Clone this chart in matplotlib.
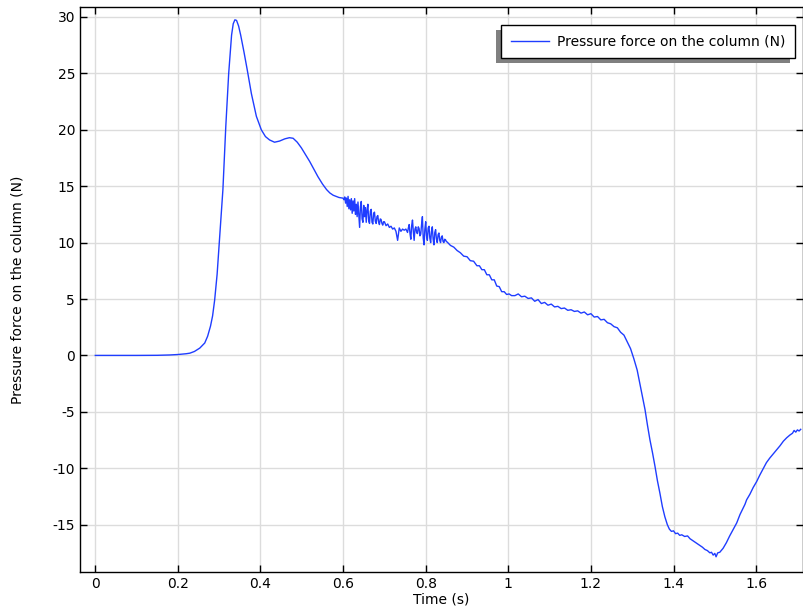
import matplotlib
matplotlib.use("Agg")
import matplotlib.pyplot as plt
from matplotlib.patches import Rectangle

plt.rcParams['font.family'] = ['DejaVu Sans']
plt.rcParams['axes.unicode_minus'] = False

# time (s) and pressure force (N)
time_s = [
    # rise and peak
    0.000, 0.050, 0.100, 0.150, 0.180, 0.200, 0.220, 0.229, 0.240, 0.253,
    0.265, 0.272, 0.279, 0.284, 0.289, 0.295, 0.300, 0.305, 0.309, 0.316,
    0.323, 0.330, 0.334, 0.338, 0.342, 0.347, 0.352, 0.360, 0.368, 0.378,
    0.390, 0.402, 0.412, 0.422, 0.434, 0.446, 0.459, 0.470, 0.479, 0.489,
    0.499, 0.509, 0.519, 0.539, 0.550, 0.560, 0.568, 0.576, 0.590,
    # noisy part
    0.600, 0.602, 0.604, 0.606, 0.608, 0.610, 0.612, 0.614, 0.616, 0.618,
    0.620, 0.622, 0.624, 0.626, 0.628, 0.630, 0.632, 0.634, 0.636, 0.638,
    0.640, 0.642, 0.644, 0.646, 0.648, 0.650, 0.652, 0.654, 0.656, 0.658,
    0.660, 0.662, 0.664, 0.666, 0.668, 0.670, 0.672, 0.674, 0.676, 0.678,
    0.680, 0.682, 0.684, 0.686, 0.688, 0.690, 0.692, 0.694, 0.696, 0.698,
    0.700, 0.704, 0.708, 0.712, 0.716, 0.720, 0.724, 0.728, 0.732, 0.736,
    0.740, 0.744, 0.748, 0.752,
    0.756, 0.758, 0.760, 0.762, 0.764, 0.766, 0.768, 0.770, 0.772, 0.774,
    0.776, 0.778, 0.780, 0.782, 0.784, 0.786, 0.788, 0.790, 0.792, 0.794,
    0.796, 0.798, 0.800, 0.802, 0.804, 0.806, 0.808, 0.810, 0.812, 0.814,
    0.816, 0.818, 0.820, 0.822, 0.824, 0.826, 0.828, 0.830, 0.832, 0.834,
    0.836, 0.838, 0.840, 0.842, 0.844, 0.846, 0.848, 0.850, 0.852,
    # decline to 1 s
    0.860, 0.868, 0.876, 0.884, 0.892, 0.900, 0.908, 0.916, 0.924, 0.930,
    0.936, 0.942, 0.948, 0.954, 0.960, 0.966, 0.972, 0.978, 0.984, 0.990,
    0.996, 1.002, 1.008,
    # plateau and drop
    1.016, 1.024, 1.032, 1.040, 1.048, 1.056, 1.064, 1.072, 1.080, 1.088,
    1.096, 1.104, 1.112, 1.120, 1.128, 1.136, 1.144, 1.152, 1.160, 1.168,
    1.176, 1.184, 1.192, 1.200, 1.208, 1.216, 1.224, 1.232, 1.240, 1.248,
    1.256, 1.264, 1.272, 1.280, 1.288, 1.296, 1.304, 1.312, 1.318, 1.324,
    1.331, 1.337, 1.343, 1.349, 1.355, 1.361, 1.367, 1.373, 1.379, 1.385,
    # minimum and recovery
    1.390, 1.395, 1.400, 1.405, 1.410, 1.415, 1.420, 1.427, 1.434, 1.440,
    1.446, 1.452, 1.458, 1.464, 1.470, 1.476, 1.482, 1.488, 1.492, 1.496,
    1.500, 1.503, 1.507, 1.512, 1.520, 1.528, 1.536, 1.544, 1.553, 1.561,
    1.569, 1.573, 1.577, 1.585, 1.593, 1.601, 1.609, 1.617, 1.625, 1.633,
    1.641, 1.650, 1.658, 1.666, 1.674, 1.682, 1.688, 1.692, 1.696, 1.700,
    1.704, 1.708,
]
force_n = [
    # rise and peak
    0.0, 0.0, 0.0, 0.01, 0.04, 0.08, 0.15, 0.2, 0.35, 0.65,
    1.1, 1.7, 2.6, 3.5, 4.9, 7.2, 9.9, 12.5, 14.7, 20.3,
    25.0, 28.4, 29.4, 29.75, 29.7, 29.2, 28.4, 26.9, 25.3, 23.2,
    21.2, 20.0, 19.4, 19.1, 18.9, 19.0, 19.2, 19.3, 19.25, 18.9,
    18.4, 17.8, 17.2, 15.85, 15.2, 14.7, 14.4, 14.2, 14.0,
    # noisy part
    13.94, 13.8, 14.05, 13.5, 13.95, 13.2, 14.1, 13.0, 13.8, 12.9,
    13.9, 12.6, 13.7, 12.8, 13.9, 12.5, 13.4, 12.3, 13.6, 12.4,
    11.35, 13.2, 13.65, 12.1, 11.8, 13.3, 12.3, 13.1, 11.8, 12.9,
    13.4, 11.9, 11.7, 12.8, 12.95, 11.8, 11.65, 12.6, 12.7, 11.9,
    11.7, 12.3, 12.4, 11.8, 11.6, 12.1, 12.05, 11.7, 11.55, 11.85,
    11.85, 11.5, 11.65, 11.35, 11.45, 11.2, 11.3, 11.0, 10.2, 11.3,
    11.0, 11.2, 11.1, 11.2,
    10.9, 11.3, 11.6, 10.8, 10.3, 11.5, 12.0, 11.0, 10.2, 11.2,
    11.4, 10.9, 10.8, 11.4, 11.25, 10.6, 10.75, 11.6, 12.3, 10.4,
    9.8, 11.2, 11.85, 10.6, 10.2, 11.3, 11.45, 10.4, 10.0, 11.0,
    11.4, 10.3, 9.8, 10.9, 11.15, 10.3, 10.0, 10.7, 10.85, 10.2,
    10.0, 10.5, 10.6, 10.1, 10.0, 10.3, 10.25, 10.1, 10.05,
    # decline to 1 s
    9.75, 9.6, 9.3, 9.1, 8.8, 8.75, 8.4, 8.35, 7.95, 7.95,
    7.6, 7.6, 7.15, 7.15, 6.7, 6.7, 6.15, 6.1, 5.65, 5.65,
    5.4, 5.45, 5.3,
    # plateau and drop
    5.3, 5.45, 5.2, 5.25, 5.05, 5.1, 4.8, 4.95, 4.6, 4.7,
    4.45, 4.55, 4.3, 4.35, 4.15, 4.2, 4.0, 4.05, 3.9, 3.95,
    3.75, 3.85, 3.6, 3.7, 3.4, 3.45, 3.15, 3.2, 2.9, 2.8,
    2.55, 2.45, 2.05, 1.8, 1.2, 0.6, -0.3, -1.3, -2.4, -3.5,
    -4.8, -6.2, -7.5, -8.6, -9.8, -11.1, -12.2, -13.4, -14.3, -15.0,
    # minimum and recovery
    -15.4, -15.6, -15.55, -15.8, -15.75, -15.95, -15.9, -16.05, -16.0, -16.25,
    -16.4, -16.55, -16.7, -16.85, -17.0, -17.2, -17.3, -17.5, -17.45, -17.7,
    -17.55, -17.85, -17.5, -17.45, -17.1, -16.6, -16.0, -15.45, -14.85, -14.1,
    -13.5, -13.2, -12.8, -12.3, -11.7, -11.2, -10.6, -10.05, -9.5, -9.1,
    -8.75, -8.35, -8.0, -7.6, -7.3, -7.05, -6.9, -6.65, -6.8, -6.6,
    -6.7, -6.55,
]

x_ticks = [0, 0.2, 0.4, 0.6, 0.8, 1, 1.2, 1.4, 1.6]
x_labels = ['0', '0.2', '0.4', '0.6', '0.8', '1', '1.2', '1.4', '1.6']
y_ticks = [-15, -10, -5, 0, 5, 10, 15, 20, 25, 30]

fig = plt.figure(figsize=(8.04, 6.11), dpi=100)
ax = fig.add_axes([0.0995, 0.0638, 0.899, 0.925])

ax.plot(time_s, force_n, color='#1f3dff', lw=1.0,
        label='Pressure force on the column (N)')

ax.set_xlim(-0.037, 1.713)
ax.set_ylim(-19.2, 30.9)
ax.set_xticks(x_ticks)
ax.set_xticklabels(x_labels)
ax.set_yticks(y_ticks)
ax.grid(True, color='#dcdcdc', lw=1.0)
ax.set_axisbelow(True)
ax.tick_params(direction='in', length=5, width=1, top=True, right=True,
               labelsize=10, colors='black')
for s in ax.spines.values():
    s.set_linewidth(1.0)
    s.set_color('black')

ax.set_xlabel('Time (s)', fontsize=10, labelpad=1)
ax.set_ylabel('Pressure force on the column (N)', fontsize=10, labelpad=20)

leg = ax.legend(loc='upper right', bbox_to_anchor=(795 / 804, 1 - 25 / 611),
                bbox_transform=fig.transFigure, borderaxespad=0,
                fancybox=False, framealpha=1, edgecolor='black',
                fontsize=10, handlelength=2.7, borderpad=0.7,
                handletextpad=0.6)
leg.get_frame().set_linewidth(1.0)

# grey shadow box behind the legend, shifted left and down
fig.canvas.draw()
bb = leg.get_window_extent()
shadow = Rectangle((bb.x0 - 5, bb.y0 - 5), bb.width, bb.height,
                   transform=None, facecolor='#808080', edgecolor='none',
                   zorder=leg.get_zorder() - 0.5)
shadow.set_clip_on(False)
ax.add_artist(shadow)

fig.savefig('out.png', dpi=100)
